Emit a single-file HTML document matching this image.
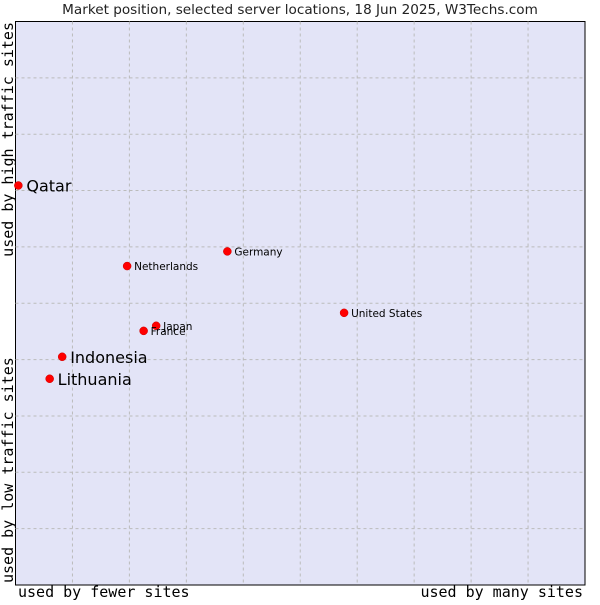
<!DOCTYPE html>
<html><head><meta charset="utf-8"><style>
body{margin:0;background:#fff;width:600px;height:600px;overflow:hidden}
svg text{font-family:"DejaVu Sans","Liberation Sans",sans-serif}
.mono{font-family:'DejaVu Sans Mono','Liberation Mono',monospace}
</style></head><body>
<svg id="chart" width="600" height="600" xmlns="http://www.w3.org/2000/svg">
<text x="300" y="14" font-size="13.6" text-anchor="middle" fill="#222">Market position, selected server locations, 18 Jun 2025, W3Techs.com</text>
<rect x="15.5" y="21.5" width="569.5" height="563.5" fill="#e3e4f7" stroke="#000" stroke-width="1"/>
<g id="grid"></g>
<g id="points"></g>
<text class="mono" x="18" y="597" font-size="15">used by fewer sites</text>
<text class="mono" x="583" y="597" font-size="15" text-anchor="end">used by many sites</text>
<text class="mono" transform="translate(13,22) rotate(-90)" font-size="15" text-anchor="end">used by high traffic sites</text>
<text class="mono" transform="translate(13,583) rotate(-90)" font-size="15">used by low traffic sites</text>
</svg>
<script>
const names=["Qatar","Indonesia","Lithuania","Netherlands","Germany","United States","Japan","France"];
const xVals=[0.05,0.82,0.6,1.96,3.72,5.77,2.47,2.25];
const yVals=[7.09,4.05,3.66,5.66,5.92,4.83,4.60,4.51];
const big=[true,true,true,false,false,false,false,false];
const X0=15.5,X1=585,Y0=585,Y1=21.5;
const xs=v=>X0+v/10*(X1-X0);
const ys=v=>Y0-v/10*(Y0-Y1);
const NS="http://www.w3.org/2000/svg";
const g=document.getElementById('grid');
for(let i=1;i<10;i++){
 let l=document.createElementNS(NS,'line');
 
 
 l.setAttribute('x1',xs(i));l.setAttribute('x2',xs(i));l.setAttribute('y1',Y1);l.setAttribute('y2',Y0);
 l.setAttribute('stroke','#bbb');l.setAttribute('stroke-dasharray','3,3');g.appendChild(l);
 let m=document.createElementNS(NS,'line');
 
 
 m.setAttribute('y1',ys(i));m.setAttribute('y2',ys(i));m.setAttribute('x1',X0);m.setAttribute('x2',X1);
 m.setAttribute('stroke','#bbb');m.setAttribute('stroke-dasharray','3,3');g.appendChild(m);
}
const p=document.getElementById('points');
names.forEach((n,i)=>{
 const cx=xs(xVals[i]),cy=ys(yVals[i]);
 const c=document.createElementNS(NS,'circle');
 
 
 c.setAttribute('cx',cx);c.setAttribute('cy',cy);c.setAttribute('r',4);c.setAttribute('fill','#f00');c.setAttribute('stroke','#c00');c.setAttribute('stroke-width','0.5');
 p.appendChild(c);
 const t=document.createElementNS(NS,'text');
 
 
 t.setAttribute('x',cx+(big[i]?8:7));t.setAttribute('y',cy+(big[i]?6:4));
 t.setAttribute('font-size',big[i]?16:10.5);t.setAttribute('fill','#000');
 t.textContent=n;p.appendChild(t);
});
</script>
</body></html>
